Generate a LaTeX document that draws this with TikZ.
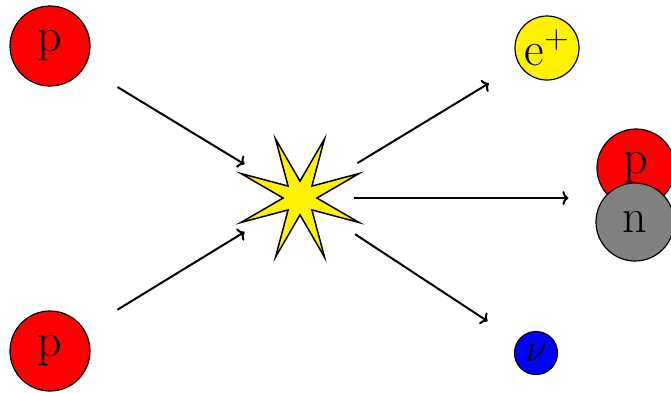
\RequirePackage{fix-cm}
\documentclass[tikz,border=0pt]{standalone}
\usetikzlibrary{shapes.geometric,arrows.meta}
\begin{document}
\begin{tikzpicture}[x=1pt,y=-1pt,
  particle/.style={circle,draw,line width=1.2pt,inner sep=0pt,minimum size=#1,font=\fontsize{48}{48}\selectfont},
  arr/.style={line width=2pt,-{To[length=6pt,width=14pt]}}]
\useasboundingbox (0,0) rectangle (671,392);
\node[particle=80pt,fill=red] (p1) at (50,46) {p};
\node[particle=80pt,fill=red] (p2) at (50,351) {p};
\node[star,star points=8,star point ratio=3.8,minimum size=128pt,inner sep=0pt,
      shape border rotate=22.5,draw,line width=1.5pt,fill=yellow] (star) at (300,198) {};
\node[particle=64pt,fill=yellow] (ep) at (547,48) {e$^+$};
\node[particle=78pt,fill=red] (pr) at (636,168) {p};
\node[particle=78pt,fill=gray] (nn) at (635,222) {n};
\node[particle=43pt,fill=blue,font=\fontsize{38}{38}\selectfont] (nu) at (536,353) {$\nu$};
\draw[arr,shorten <=79pt,shorten >=65pt] (p1.center) -- (star.center);
\draw[arr,shorten <=79pt,shorten >=65pt] (p2.center) -- (star.center);
\draw[arr,shorten <=67pt,shorten >=68pt] (star.center) -- (ep.center);
\draw[arr,shorten <=54pt,shorten >=28pt] (star.center) -- (star.center -| pr.west);
\draw[arr,shorten <=66pt,shorten >=58pt] (star.center) -- (nu.center);
\end{tikzpicture}
\end{document}
